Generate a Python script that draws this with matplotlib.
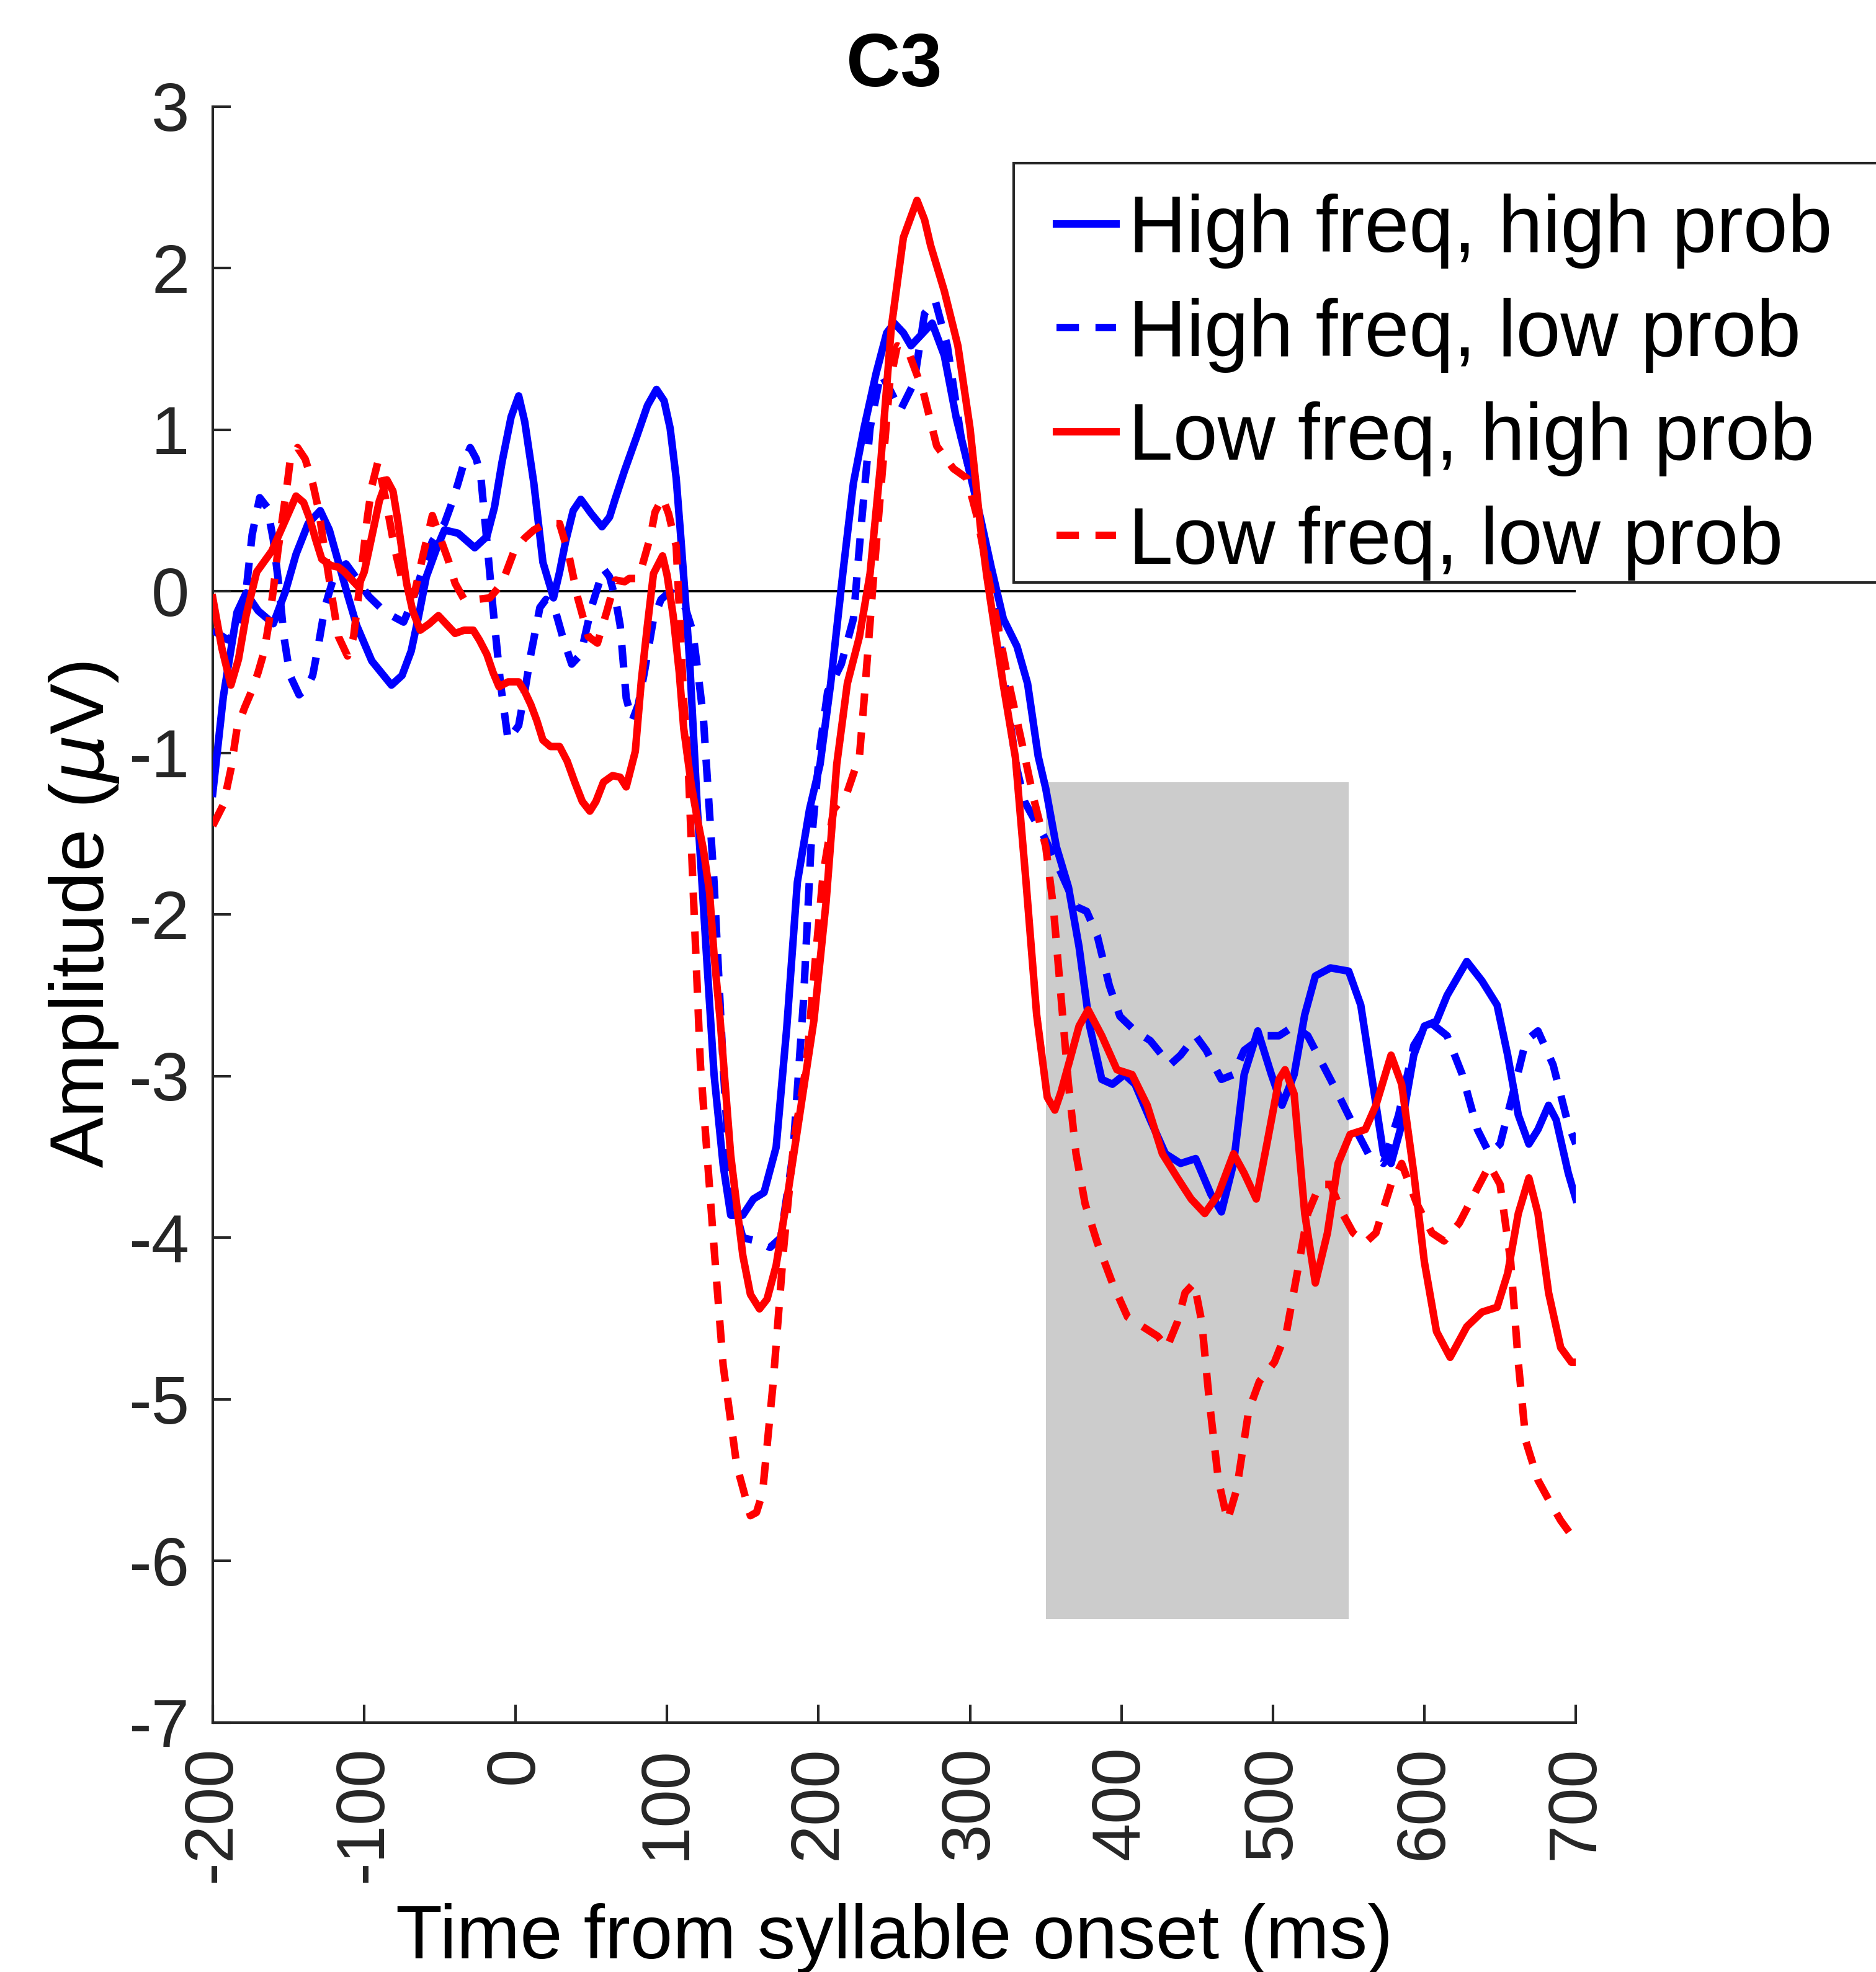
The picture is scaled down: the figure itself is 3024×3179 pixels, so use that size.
import numpy as np
import matplotlib
matplotlib.use("Agg")
import matplotlib.pyplot as plt
from matplotlib.patches import Rectangle

plt.rcParams['font.family'] = ['Liberation Sans', 'DejaVu Sans']
plt.rcParams['axes.unicode_minus'] = False

# --- data (time in ms, amplitude in microvolts) ---
t_hh = [-200, -193, -184, -178, -170, -160, -152, -145, -137, -129, -123, -117, -111, -105, -95, -82, -75,
        -69, -64, -59, -52, -47, -38, -27, -19, -14, -9, -3, 2, 6, 12, 18, 25, 29, 33, 38, 43, 50, 57, 62,
        66, 72, 80, 87, 93, 98, 102, 106, 109, 112, 115, 120, 126, 131, 137, 142, 150, 157, 164, 172, 179,
        186, 194, 201, 208, 216, 223, 230, 238, 245, 250, 256, 261, 269, 275, 283, 291, 300, 307, 314, 322,
        331, 338, 345, 350, 357, 365, 372, 379, 387, 394, 402, 409, 419, 429, 439, 449, 459, 466, 474, 481,
        490, 499, 506, 514, 521, 528, 538, 550, 558, 566, 573, 578, 585, 593, 600, 608, 615, 628, 638, 648,
        655, 662, 669, 675, 682, 687, 695, 700]
v_hh = [-1.25, -0.65, -0.13, -0.01, -0.12, -0.20, 0.00, 0.23, 0.42, 0.50, 0.38, 0.18, -0.02, -0.21, -0.43,
        -0.58, -0.52, -0.37, -0.15, 0.09, 0.27, 0.38, 0.36, 0.27, 0.34, 0.52, 0.80, 1.08, 1.21, 1.05, 0.67,
        0.18, -0.04, 0.12, 0.31, 0.50, 0.57, 0.48, 0.40, 0.46, 0.58, 0.75, 0.96, 1.15, 1.25, 1.18, 1.01, 0.70,
        0.34, -0.04, -0.45, -1.35, -2.25, -2.99, -3.55, -3.86, -3.86, -3.76, -3.72, -3.44, -2.70, -1.80, -1.35,
        -1.07, -0.57, 0.11, 0.67, 1.01, 1.35, 1.60, 1.66, 1.60, 1.52, 1.60, 1.66, 1.46, 1.07, 0.73, 0.45, 0.15,
        -0.17, -0.34, -0.57, -1.02, -1.22, -1.58, -1.83, -2.20, -2.69, -3.02, -3.05, -2.99, -3.05, -3.27, -3.48,
        -3.54, -3.51, -3.73, -3.84, -3.54, -2.99, -2.72, -2.99, -3.18, -2.99, -2.62, -2.38, -2.33, -2.35, -2.56,
        -3.05, -3.48, -3.54, -3.30, -2.87, -2.69, -2.66, -2.50, -2.29, -2.41, -2.56, -2.87, -3.24, -3.42, -3.33,
        -3.18, -3.27, -3.60, -3.76]

t_hl = [-200, -190, -184, -178, -174, -169, -164, -160, -156, -153, -149, -143, -138, -134, -130, -126, -121,
        -117, -112, -105, -97, -86, -74, -69, -65, -60, -55, -47, -42, -38, -34, -30, -26, -23, -19, -15, -10,
        -5, 2, 6, 10, 16, 20, 25, 31, 37, 43, 50, 58, 62, 66, 69, 73, 77, 81, 85, 91, 96, 102, 108, 112, 117,
        121, 124, 131, 137, 142, 150, 159, 168, 175, 183, 190, 195, 201, 206, 215, 223, 228, 234, 241, 247,
        254, 263, 270, 277, 285, 294, 303, 312, 318, 322, 326, 331, 336, 340, 349, 360, 370, 377, 384, 392,
        399, 409, 419, 432, 439, 449, 456, 466, 474, 481, 494, 504, 514, 523, 533, 543, 553, 563, 573, 583,
        593, 603, 615, 625, 635, 643, 650, 660, 667, 675, 685, 695, 700]
v_hl = [-0.24, -0.30, -0.25, 0.00, 0.35, 0.58, 0.52, 0.32, 0.01, -0.28, -0.52, -0.64, -0.60, -0.52, -0.32,
        -0.10, 0.06, 0.14, 0.17, 0.08, -0.03, -0.13, -0.19, -0.08, 0.03, 0.18, 0.31, 0.42, 0.55, 0.67, 0.80,
        0.89, 0.82, 0.71, 0.31, -0.10, -0.57, -0.92, -0.83, -0.62, -0.39, -0.10, -0.05, -0.08, -0.28, -0.45,
        -0.39, -0.10, 0.14, 0.09, -0.05, -0.21, -0.66, -0.80, -0.70, -0.50, -0.17, -0.05, 0.00, -0.06, -0.10,
        -0.25, -0.55, -0.79, -1.80, -2.93, -3.72, -4.00, -4.02, -4.06, -4.00, -3.49, -2.54, -1.58, -0.96, -0.62,
        -0.45, -0.17, 0.39, 1.01, 1.35, 1.25, 1.12, 1.29, 1.72, 1.80, 1.52, 0.96, 0.62, 0.18, -0.15, -0.50,
        -0.78, -1.10, -1.30, -1.37, -1.52, -1.74, -1.95, -1.98, -2.13, -2.44, -2.63, -2.72, -2.78, -2.93, -2.87,
        -2.75, -2.84, -3.02, -2.99, -2.84, -2.75, -2.75, -2.69, -2.75, -2.93, -3.11, -3.30, -3.48, -3.54, -3.24,
        -2.81, -2.66, -2.75, -2.99, -3.33, -3.48, -3.42, -3.05, -2.78, -2.72, -2.93, -3.30, -3.42]

t_lh = [-200, -194, -188, -183, -178, -171, -161, -153, -145, -140, -136, -132, -128, -122, -117, -113, -109,
        -104, -100, -97, -90, -85, -81, -78, -75, -72, -68, -63, -57, -51, -46, -40, -34, -28, -24, -19, -15,
        -11, -5, 2, 6, 10, 14, 18, 23, 29, 34, 39, 44, 49, 53, 58, 64, 69, 73, 79, 83, 87, 91, 97, 100, 104,
        108, 111, 116, 120, 124, 128, 131, 135, 142, 150, 155, 161, 166, 172, 179, 188, 197, 205, 212, 219,
        227, 234, 241, 248, 256, 265, 270, 274, 283, 292, 300, 307, 311, 315, 322, 330, 337, 344, 351, 356,
        360, 365, 372, 378, 387, 397, 407, 417, 427, 437, 446, 455, 464, 474, 481, 489, 496, 504, 508, 514,
        521, 528, 536, 543, 551, 561, 568, 578, 585, 593, 600, 608, 617, 628, 638, 648, 655, 662, 669, 675,
        682, 690, 697, 700]
v_lh = [-0.04, -0.35, -0.58, -0.42, -0.15, 0.12, 0.25, 0.42, 0.59, 0.55, 0.45, 0.32, 0.20, 0.16, 0.15, 0.12,
        0.08, 0.03, 0.12, 0.25, 0.56, 0.69, 0.62, 0.45, 0.25, 0.05, -0.12, -0.24, -0.20, -0.15, -0.20, -0.26,
        -0.24, -0.24, -0.30, -0.39, -0.50, -0.59, -0.56, -0.56, -0.62, -0.70, -0.80, -0.92, -0.96, -0.96, -1.05,
        -1.18, -1.30, -1.36, -1.30, -1.18, -1.14, -1.15, -1.21, -0.99, -0.55, -0.21, 0.11, 0.22, 0.10, -0.15,
        -0.50, -0.85, -1.20, -1.41, -1.60, -1.86, -2.25, -2.65, -3.49, -4.11, -4.35, -4.44, -4.38, -4.17, -3.77,
        -3.21, -2.65, -1.92, -1.07, -0.57, -0.28, 0.11, 0.79, 1.63, 2.19, 2.42, 2.30, 2.14, 1.86, 1.52, 1.01,
        0.39, 0.10, -0.15, -0.58, -1.03, -1.80, -2.62, -3.13, -3.21, -3.10, -2.93, -2.69, -2.59, -2.75, -2.96,
        -2.99, -3.18, -3.48, -3.63, -3.76, -3.85, -3.73, -3.48, -3.60, -3.76, -3.42, -3.02, -2.96, -3.11, -3.85,
        -4.28, -3.97, -3.54, -3.36, -3.33, -3.18, -2.87, -3.05, -3.60, -4.15, -4.58, -4.74, -4.55, -4.46, -4.43,
        -4.22, -3.85, -3.63, -3.85, -4.34, -4.68, -4.77, -4.77]

t_ll = [-200, -193, -188, -184, -179, -174, -170, -166, -163, -160, -157, -154, -151, -149, -144, -139, -134,
        -130, -127, -122, -117, -111, -107, -103, -98, -95, -91, -86, -80, -74, -67, -61, -55, -49, -44, -40,
        -34, -26, -17, -9, -1, 6, 12, 20, 29, 35, 41, 48, 54, 60, 66, 72, 75, 80, 83, 89, 92, 97, 101, 104,
        106, 108, 111, 114, 117, 122, 130, 137, 146, 155, 159, 163, 170, 177, 184, 192, 197, 203, 210, 219,
        227, 230, 236, 241, 247, 252, 259, 269, 278, 289, 298, 305, 311, 315, 325, 335, 342, 350, 355, 360,
        365, 370, 376, 384, 394, 404, 414, 424, 430, 437, 442, 448, 453, 458, 464, 470, 476, 484, 491, 501,
        509, 516, 523, 531, 538, 546, 553, 561, 568, 578, 585, 595, 605, 613, 623, 633, 643, 650, 657, 662,
        667, 675, 682, 690, 697, 700]
v_ll = [-1.45, -1.32, -1.10, -0.85, -0.72, -0.61, -0.50, -0.37, -0.20, 0.01, 0.25, 0.45, 0.65, 0.80, 0.89,
        0.82, 0.67, 0.50, 0.31, 0.01, -0.28, -0.40, -0.28, 0.03, 0.45, 0.65, 0.80, 0.58, 0.27, 0.03, -0.02,
        0.23, 0.47, 0.31, 0.18, 0.05, -0.05, -0.05, -0.04, 0.05, 0.25, 0.33, 0.38, 0.42, 0.42, 0.23, -0.04,
        -0.28, -0.32, -0.13, 0.07, 0.06, 0.08, 0.08, 0.14, 0.34, 0.49, 0.58, 0.48, 0.36, 0.28, -0.10, -0.68,
        -1.09, -1.80, -2.93, -3.94, -4.79, -5.41, -5.72, -5.70, -5.58, -4.90, -4.06, -3.38, -2.93, -2.37, -1.75,
        -1.35, -1.24, -1.02, -0.68, 0.05, 0.62, 1.29, 1.52, 1.49, 1.24, 0.90, 0.76, 0.70, 0.45, 0.15, -0.05,
        -0.54, -0.97, -1.28, -1.58, -1.95, -2.50, -3.05, -3.48, -3.79, -4.03, -4.28, -4.49, -4.55, -4.61, -4.68,
        -4.52, -4.34, -4.28, -4.52, -5.01, -5.50, -5.75, -5.56, -5.07, -4.89, -4.77, -4.58, -4.22, -3.85, -3.67,
        -3.67, -3.85, -3.97, -4.03, -3.97, -3.67, -3.54, -3.79, -3.97, -4.02, -3.91, -3.73, -3.55, -3.67, -4.15,
        -4.77, -5.26, -5.50, -5.62, -5.75, -5.84, -5.86]

labels = ['High freq, high prob', 'High freq, low prob', 'Low freq, high prob', 'Low freq, low prob']

# analysis window (grey box)
win_start, win_end = 350, 550
win_low, win_high = -6.36, -1.18

x_ticks = np.arange(-200, 701, 100)
y_ticks = np.arange(-7, 4, 1)

# --- figure ---
fig = plt.figure(figsize=(10.08, 10.597), dpi=300)
ax = fig.add_axes([0.1134, 0.1265, 0.7266, 0.8194])

ax.add_patch(Rectangle((win_start, win_low), win_end - win_start, win_high - win_low,
                       facecolor='#cccccc', edgecolor='none', zorder=0))
ax.axhline(0, color='black', linewidth=0.9, zorder=1)

lw = 2.9
dash = (3.0, 2.2)
style = dict(linewidth=lw, zorder=3, solid_joinstyle='round', dash_joinstyle='round')
ax.plot(t_hh, v_hh, color='#0000ff', label=labels[0], **style)
ax.plot(t_hl, v_hl, color='#0000ff', linestyle=(0, dash), label=labels[1], **style)
ax.plot(t_lh, v_lh, color='#ff0000', label=labels[2], **style)
ax.plot(t_ll, v_ll, color='#ff0000', linestyle=(0, dash), label=labels[3], **style)

ax.set_xlim(-200, 700)
ax.set_ylim(-7, 3)
ax.set_xticks(x_ticks)
ax.set_yticks(y_ticks)
ax.set_xticklabels([str(v) for v in x_ticks], rotation=90)
ax.set_yticklabels([str(v) for v in y_ticks])

dark = '#262626'
for side in ['top', 'right']:
    ax.spines[side].set_visible(False)
for side in ['left', 'bottom']:
    ax.spines[side].set_color(dark)
    ax.spines[side].set_linewidth(1.0)
ax.tick_params(direction='in', length=7, width=1.0, color=dark, labelcolor=dark, labelsize=26.5, pad=9)

ax.set_xlabel('Time from syllable onset (ms)', fontsize=29.5, labelpad=8)
ax.set_ylabel(r'Amplitude ($\mu$V)', fontsize=29.5, labelpad=3)
ax.set_title('C3', fontsize=29, fontweight='bold', pad=8)

# legend: entries without frame, box drawn separately (it runs past the figure's right edge)
ax.add_patch(Rectangle((0.5402, 0.7047), 0.52, 0.2124, transform=fig.transFigure, clip_on=False,
                       facecolor='white', edgecolor=dark, linewidth=1.0, zorder=4))
leg = ax.legend(loc='upper left', bbox_to_anchor=(0.563, 0.9018), bbox_transform=fig.transFigure,
                borderaxespad=0, borderpad=0, fontsize=31, handlelength=0.75, handletextpad=0.15,
                labelspacing=0.36, frameon=False)
leg.set_zorder(6)

fig.savefig('out.png', dpi=300)
